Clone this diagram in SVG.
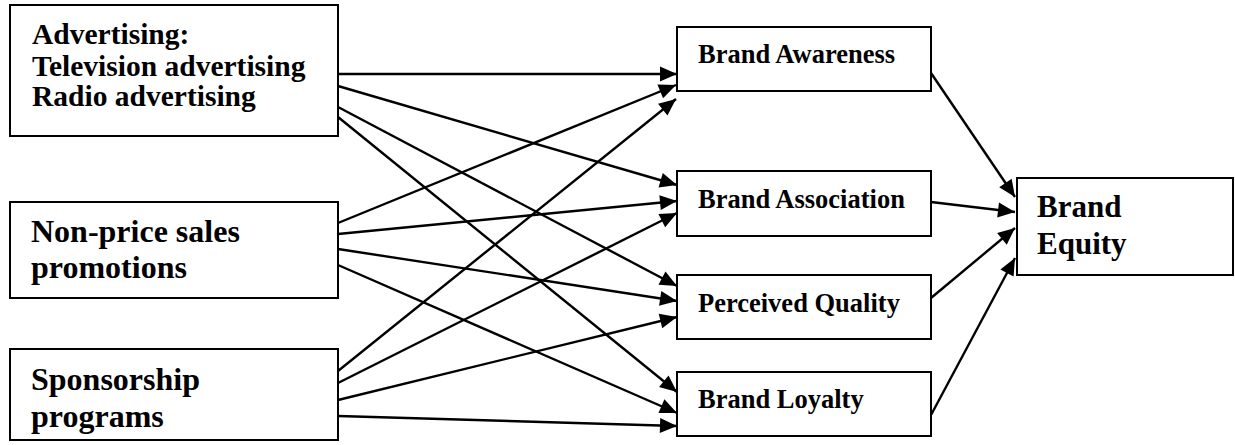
<svg xmlns="http://www.w3.org/2000/svg" width="1235" height="445" viewBox="0 0 1235 445">
  <style>
    .box { fill: #ffffff; stroke: #000000; stroke-width: 2; }
    .lbl { font-family: "Liberation Serif", "Times New Roman", serif; font-weight: bold; fill: #000000; }
    .src { font-size: 32px; }
    .adv { font-size: 29.5px; }
    .mid { font-size: 26.5px; }
    .out { font-size: 31px; }
    .edge { stroke: #000000; stroke-width: 2.4; fill: none; marker-end: url(#arrow); }
  </style>
  <defs>
    <marker id="arrow" markerUnits="userSpaceOnUse" viewBox="0 0 18 15" markerWidth="18" markerHeight="15" refX="17" refY="7.5" orient="auto" overflow="visible">
      <path d="M0,0 L17,7.5 L0,15 Z" fill="#000000"/>
    </marker>
  </defs>
  <rect width="1235" height="445" fill="#ffffff"/>

  <!-- connectors -->
  <g id="connectors">
    <!-- from Advertising -->
    <line class="edge" x1="338" y1="74" x2="677" y2="74"/>
    <line class="edge" x1="338" y1="86" x2="677" y2="185"/>
    <line class="edge" x1="338" y1="107" x2="677" y2="286"/>
    <line class="edge" x1="338" y1="117" x2="677" y2="392"/>
    <!-- from Non-price sales promotions -->
    <line class="edge" x1="338" y1="223" x2="676" y2="85"/>
    <line class="edge" x1="338" y1="234" x2="677" y2="201"/>
    <line class="edge" x1="338" y1="249" x2="677" y2="301"/>
    <line class="edge" x1="338" y1="265" x2="677" y2="413"/>
    <!-- from Sponsorship programs -->
    <line class="edge" x1="338" y1="371" x2="676" y2="99"/>
    <line class="edge" x1="338" y1="383" x2="677" y2="213"/>
    <line class="edge" x1="338" y1="400" x2="677" y2="317"/>
    <line class="edge" x1="338" y1="416" x2="677" y2="426"/>
    <!-- into Brand Equity -->
    <line class="edge" x1="931" y1="73" x2="1015" y2="197"/>
    <line class="edge" x1="931" y1="202" x2="1015" y2="212"/>
    <line class="edge" x1="931" y1="298" x2="1015" y2="228"/>
    <line class="edge" x1="931" y1="415" x2="1015" y2="258"/>
  </g>

  <!-- marketing communication sources -->
  <g id="advertising">
    <rect class="box" x="10" y="5" width="328" height="131"/>
    <text class="lbl adv" x="32" y="44">Advertising:</text>
    <text class="lbl adv" x="32" y="76">Television advertising</text>
    <text class="lbl adv" x="32" y="106">Radio advertising</text>
  </g>
  <g id="non-price">
    <rect class="box" x="10" y="202" width="328" height="96"/>
    <text class="lbl src" x="31" y="242">Non-price sales</text>
    <text class="lbl src" x="31" y="278">promotions</text>
  </g>
  <g id="sponsorship">
    <rect class="box" x="10" y="349" width="328" height="91"/>
    <text class="lbl src" x="31" y="390">Sponsorship</text>
    <text class="lbl src" x="31" y="427">programs</text>
  </g>

  <!-- brand equity dimensions -->
  <g id="brand-awareness">
    <rect class="box" x="677" y="27" width="254" height="64"/>
    <text class="lbl mid" x="698" y="63">Brand Awareness</text>
  </g>
  <g id="brand-association">
    <rect class="box" x="677" y="171" width="254" height="65"/>
    <text class="lbl mid" x="698" y="208">Brand Association</text>
  </g>
  <g id="perceived-quality">
    <rect class="box" x="677" y="275" width="254" height="64"/>
    <text class="lbl mid" x="698" y="312">Perceived Quality</text>
  </g>
  <g id="brand-loyalty">
    <rect class="box" x="677" y="372" width="254" height="64"/>
    <text class="lbl mid" x="698" y="408">Brand Loyalty</text>
  </g>

  <!-- outcome -->
  <g id="brand-equity">
    <rect class="box" x="1017" y="178" width="216" height="97"/>
    <text class="lbl out" x="1037" y="217">Brand</text>
    <text class="lbl out" x="1037" y="254">Equity</text>
  </g>
</svg>
